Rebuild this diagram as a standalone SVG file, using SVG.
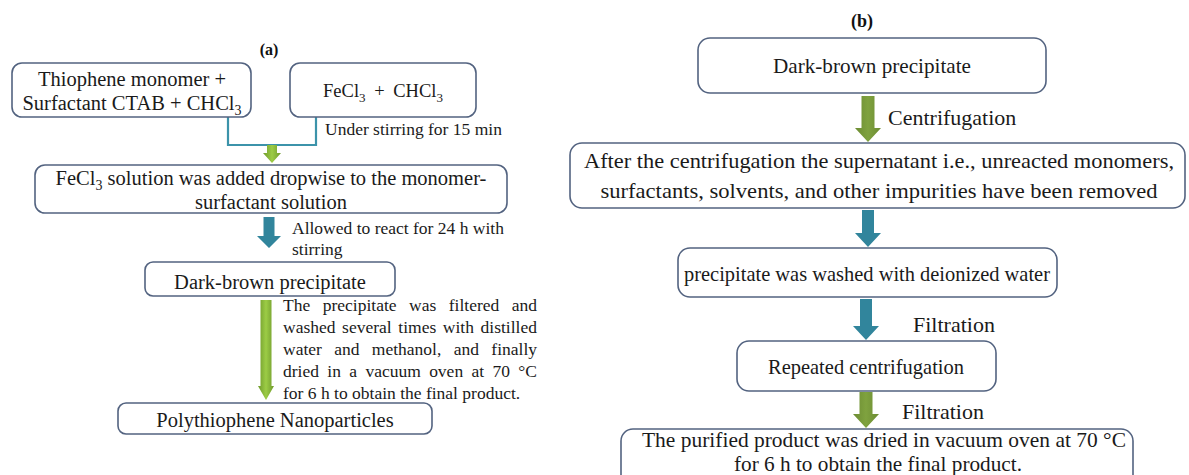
<svg xmlns="http://www.w3.org/2000/svg" width="1189" height="475" viewBox="0 0 1189 475">
<style>
.box{fill:#fff;stroke:#536380;stroke-width:1.6}
.t{font-family:"Liberation Serif","Times New Roman",serif;fill:#1a1a1a}
.ta{font-size:20.5px}
.tn{font-size:17.5px}
.tb{font-size:22px}
.lbl{font-family:"Liberation Serif","Times New Roman",serif;font-weight:bold;fill:#111}
.blue{fill:#31859c}
.green{fill:url(#gg)}
.olive{fill:url(#go)}
.brk{fill:none;stroke:#3c93aa;stroke-width:2.2}
</style>
<defs>
<linearGradient id="gg" x1="0" y1="0" x2="1" y2="0">
<stop offset="0" stop-color="#6f9a2c"/>
<stop offset="0.5" stop-color="#9ccc45"/>
<stop offset="1" stop-color="#6f9a2c"/>
</linearGradient>
<linearGradient id="go" x1="0" y1="0" x2="1" y2="0">
<stop offset="0" stop-color="#6c8c33"/>
<stop offset="0.5" stop-color="#7fa23f"/>
<stop offset="1" stop-color="#6c8c33"/>
</linearGradient>
</defs>
<rect width="1189" height="475" fill="#fff"/>

<text class="lbl" x="269" y="55" font-size="16" text-anchor="middle">(a)</text>
<text class="lbl" x="862" y="27" font-size="18" text-anchor="middle">(b)</text>

<g id="connectors">
<path class="brk" d="M228 117 V145 H316 V117"/>
<path class="green" d="M267 145 H277 V153 H281 L272 163 L263 153 H267 Z"/>
<path class="blue" d="M263.5 217 H274.5 V236 H281 L269 248 L257 236 H263.5 Z"/>
<path class="green" d="M260.5 300 H271.5 V386 H274 L266 400 L258 386 H260.5 Z"/>
<path class="olive" d="M861.5 96 H874.5 V128 H881 L868 142 L855 128 H861.5 Z"/>
<path class="blue" d="M862 210 H874 V233 H881 L868 247 L855 233 H862 Z"/>
<path class="blue" d="M860 299 H872 V326 H879 L866 340 L853 326 H860 Z"/>
<path class="olive" d="M859.5 392 H872.5 V414 H879 L866 428 L853 414 H859.5 Z"/>
<text class="t tn" x="325" y="135">Under stirring for 15 min</text>
<text class="t tn" x="292" y="234">Allowed to react for 24 h with</text>
<text class="t tn" x="292" y="255">stirring</text>
<text class="t tn" x="283" y="311" word-spacing="8" textLength="254" lengthAdjust="spacing">The precipitate was filtered and</text>
<text class="t tn" x="283" y="333" word-spacing="2.2" textLength="254" lengthAdjust="spacing">washed several times with distilled</text>
<text class="t tn" x="283" y="355" word-spacing="8" textLength="254" lengthAdjust="spacing">water and methanol, and finally</text>
<text class="t tn" x="283" y="377" word-spacing="4" textLength="254" lengthAdjust="spacing">dried in a vacuum oven at 70 °C</text>
<text class="t tn" x="283" y="399">for 6 h to obtain the final product.</text>
<text class="t tb" x="888" y="125">Centrifugation</text>
<text class="t tb" x="913" y="332">Filtration</text>
<text class="t tb" x="902" y="419">Filtration</text>
</g>

<g id="a1">
<rect class="box" x="12" y="63" width="239" height="54" rx="10"/>
<text class="t ta" x="132" y="86" text-anchor="middle">Thiophene monomer +</text>
<text class="t ta" x="132" y="110" text-anchor="middle">Surfactant CTAB + CHCl<tspan font-size="14" dy="5">3</tspan></text>
</g>
<g id="a2">
<rect class="box" x="290" y="63" width="186" height="54" rx="10"/>
<text class="t" font-size="18.5" x="383" y="97" text-anchor="middle">FeCl<tspan font-size="13" dy="5">3</tspan><tspan dy="-5" word-spacing="4"> + CHCl</tspan><tspan font-size="13" dy="5">3</tspan></text>
</g>
<g id="a3">
<rect class="box" x="35" y="165" width="472" height="48" rx="10"/>
<text class="t ta" x="271" y="185" text-anchor="middle">FeCl<tspan font-size="14" dy="5">3</tspan><tspan dy="-5"> solution was added dropwise to the monomer-</tspan></text>
<text class="t ta" x="271" y="209" text-anchor="middle">surfactant solution</text>
</g>
<g id="a4">
<rect class="box" x="145" y="262" width="250" height="34" rx="8"/>
<text class="t ta" x="270" y="289" text-anchor="middle">Dark-brown precipitate</text>
</g>
<g id="a5">
<rect class="box" x="118" y="403" width="314" height="31" rx="8"/>
<text class="t ta" x="275" y="427" text-anchor="middle">Polythiophene Nanoparticles</text>
</g>

<g id="b1">
<rect class="box" x="698" y="38" width="348" height="55" rx="12"/>
<text class="t tb" x="872" y="73" text-anchor="middle" textLength="198" lengthAdjust="spacingAndGlyphs">Dark-brown precipitate</text>
</g>
<g id="b2">
<rect class="box" x="570" y="143" width="615" height="65" rx="12"/>
<text class="t tb" x="879" y="168" text-anchor="middle" textLength="590" lengthAdjust="spacingAndGlyphs">After the centrifugation the supernatant i.e., unreacted monomers,</text>
<text class="t tb" x="879" y="198" text-anchor="middle" textLength="557" lengthAdjust="spacingAndGlyphs">surfactants, solvents, and other impurities have been removed</text>
</g>
<g id="b3">
<rect class="box" x="678" y="248" width="379" height="49" rx="12"/>
<text class="t tb" x="867" y="281" text-anchor="middle" textLength="366" lengthAdjust="spacingAndGlyphs">precipitate was washed with deionized water</text>
</g>
<g id="b4">
<rect class="box" x="737" y="341" width="259" height="50" rx="12"/>
<text class="t tb" x="866" y="374" text-anchor="middle" textLength="196" lengthAdjust="spacingAndGlyphs">Repeated centrifugation</text>
</g>
<g id="b5">
<rect class="box" x="621" y="429" width="512" height="60" rx="12"/>
<text class="t tb" x="884" y="447" text-anchor="middle" textLength="484" lengthAdjust="spacingAndGlyphs">The purified product was dried in vacuum oven at 70 °C</text>
<text class="t tb" x="878" y="471" text-anchor="middle" textLength="288" lengthAdjust="spacingAndGlyphs">for 6 h to obtain the final product.</text>
</g>
</svg>
